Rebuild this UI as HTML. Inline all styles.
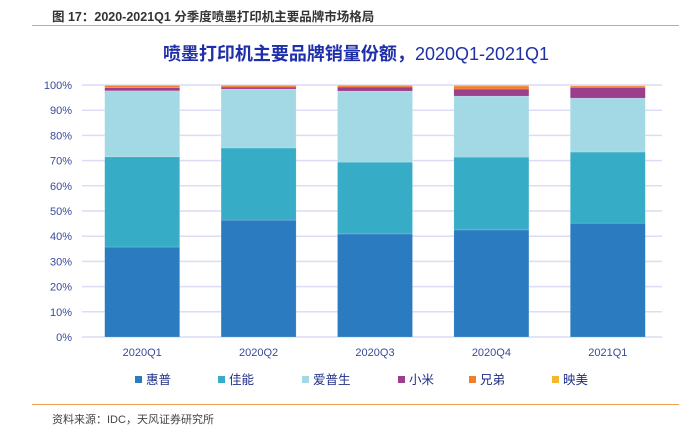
<!DOCTYPE html><html><head><meta charset="utf-8"><style>
body{margin:0;width:679px;height:433px;background:#fff;font-family:"Liberation Sans","Noto Sans CJK SC",sans-serif;overflow:hidden;position:relative}
.t{position:absolute;left:52px;top:6px;font-size:12.5px;font-weight:bold;color:#333}
.hl{position:absolute;left:32px;width:648px;height:1px;background:#f0a050}
.src{position:absolute;left:52px;top:411px;font-size:11px;color:#444}
</style></head><body>
<div class="t">图 17：2020-2021Q1 分季度喷墨打印机主要品牌市场格局</div>
<div class="hl" style="top:25px"></div>
<div class="hl" style="top:404px"></div>
<div class="src">资料来源：IDC，天风证券研究所</div>
<svg id="c" width="679" height="433" style="position:absolute;left:0;top:0">
<text x="356" y="60" text-anchor="middle" font-size="18" fill="#1f2fa8" font-weight="bold">喷墨打印机主要品牌销量份额，<tspan font-weight="normal">2020Q1-2021Q1</tspan></text>
</svg>
<script>
const categories=["2020Q1","2020Q2","2020Q3","2020Q4","2021Q1"];
const seriesNames=["惠普","佳能","爱普生","小米","兄弟","映美"];
const hp=[35.7,46.4,40.9,42.5,45.2];
const canon=[35.8,28.6,28.5,28.9,28.2];
const epson=[26.2,23.4,28.2,24.2,21.4];
const xiaomi=[1.2,0.8,1.6,2.8,4.2];
const brother=[0.9,0.6,0.6,1.2,0.6];
const yingmei=[0.2,0.2,0.2,0.4,0.2];
const yTicks=[0,10,20,30,40,50,60,70,80,90,100];
const colors=["#2a7bbf","#36acc6","#a2d9e4","#9b3e8c","#f07f2a","#f5b82a"];
const series=[hp,canon,epson,xiaomi,brother,yingmei];
const svg=document.getElementById('c'),NS="http://www.w3.org/2000/svg";
const x0=84,x1=666,yb=337,yt=85;
const y=v=>yb-(v/100)*(yb-yt);
const step=(x1-x0)/categories.length;
const xc=i=>x0+step*(i+0.5);
function mk(t,a){const e=document.createElementNS(NS,t);for(const k in a)e.setAttribute(k,a[k]);svg.appendChild(e);return e;}
yTicks.forEach(v=>{
 const l=mk('line',{x1:82,x2:662,y1:y(v),y2:y(v),stroke:'#dcdcf5','stroke-width':1.5});
 
 
 const t=mk('text',{x:72,y:y(v)+4,'text-anchor':'end','font-size':11,fill:'#3a4a9a'});t.textContent=v+'%';
 
 
});
const bw=75;
categories.forEach((c,i)=>{
 let acc=0;
 series.forEach((s,j)=>{
  const r=mk('rect',{x:xc(i)-bw/2,y:y(acc+s[i]),width:bw,height:y(acc)-y(acc+s[i]),fill:colors[j],stroke:'#fff','stroke-opacity':0.3,'stroke-width':0.5});
  
  
  acc+=s[i];
 });
 const t=mk('text',{x:xc(i),y:356,'text-anchor':'middle','font-size':11,fill:'#3a4a9a'});t.textContent=c;
 
 
});
const lx=[135,218,302,398,469,552];
seriesNames.forEach((n,j)=>{
 const r=mk('rect',{x:lx[j],y:376,width:7,height:7,fill:colors[j]});
 
 
 const t=mk('text',{x:lx[j]+11,y:384,'font-size':12.5,fill:'#1f2f88'});t.textContent=n;
 
 
});
</script>
</body></html>
